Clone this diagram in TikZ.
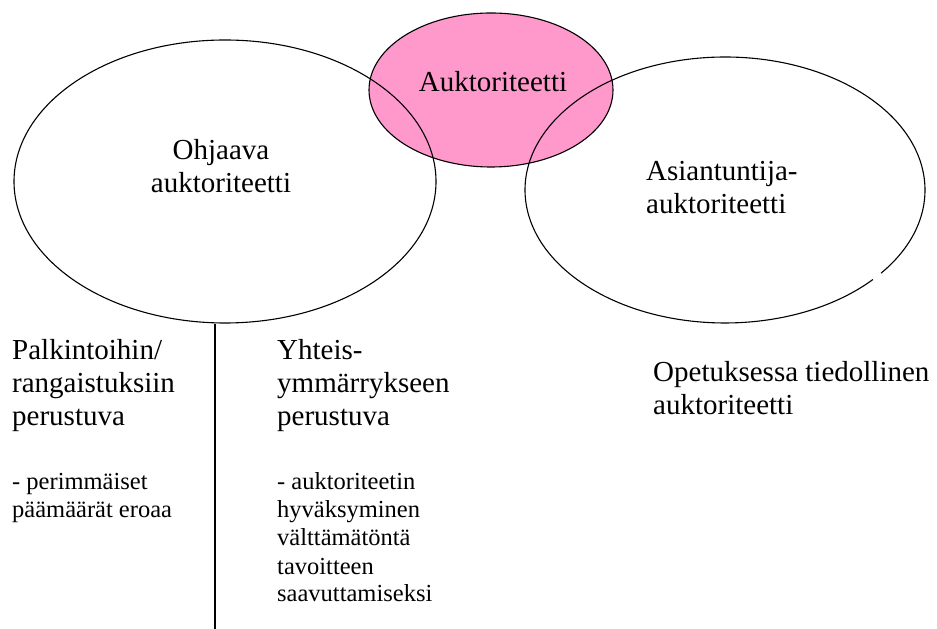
\documentclass[tikz,border=0pt]{standalone}
\usepackage{fontspec}
\setmainfont{Liberation Serif}
\usetikzlibrary{shapes.geometric}
\definecolor{pinkfill}{RGB}{255,153,204}
\begin{document}
\begin{tikzpicture}[x=1pt,y=1pt,
  ring/.style={ellipse, draw=black, line width=1.1pt, inner sep=0pt},
  bigtxt/.style={font=\fontsize{29}{33}\selectfont, inner sep=0pt, align=left},
  bigctr/.style={font=\fontsize{29}{33}\selectfont, inner sep=0pt, align=center},
  smalltxt/.style={font=\fontsize{24.5}{28}\selectfont, inner sep=0pt, align=left}]
\useasboundingbox (0,0) rectangle (937,629);
% pink core ellipse fill
\node[ellipse, fill=pinkfill, inner sep=0pt, minimum width=244pt, minimum height=154pt] (core) at (491,539) {};
% outlines
\node[ring, minimum width=422pt, minimum height=283pt] (ohj) at (225,447.5) {};
\node[ellipse, inner sep=0pt, minimum width=400pt, minimum height=266pt] (asi) at (725,439) {};
\draw[line width=1.1pt] ([shift={(-38.7:200pt and 133pt)}]asi.center) arc[start angle=-38.7, end angle=317.7, x radius=200pt, y radius=133pt];
\node[ring, minimum width=244pt, minimum height=154pt] (coreline) at (core.center) {};
% vertical divider
\coordinate (lineend) at (215,0);
\draw[line width=1.1pt] (ohj.south -| lineend) -- (lineend);
% texts (base anchor = baseline of the last line)
\node[bigctr, anchor=base] (t0) at (493,537) {Auktoriteetti};
\node[bigctr, anchor=base] (t1) at (221,436) {Ohjaava\\auktoriteetti};
\node[bigtxt, anchor=base west] (t2) at (646,415) {Asiantuntija-\\auktoriteetti};
\node[bigtxt, anchor=base west] (t3) at (12,203) {Palkintoihin/\\rangaistuksiin\\perustuva};
\node[smalltxt, anchor=base west] (t4) at (12,111) {- perimmäiset\\päämäärät eroaa};
\node[bigtxt, anchor=base west] (t5) at (277,203) {Yhteis-\\ymmärrykseen\\perustuva};
\node[smalltxt, anchor=base west] (t6) at (277,27) {- auktoriteetin\\hyväksyminen\\välttämätöntä\\tavoitteen\\saavuttamiseksi};
\node[bigtxt, anchor=base west] (t7) at (653,214) {Opetuksessa tiedollinen\\auktoriteetti};
\end{tikzpicture}
\end{document}
